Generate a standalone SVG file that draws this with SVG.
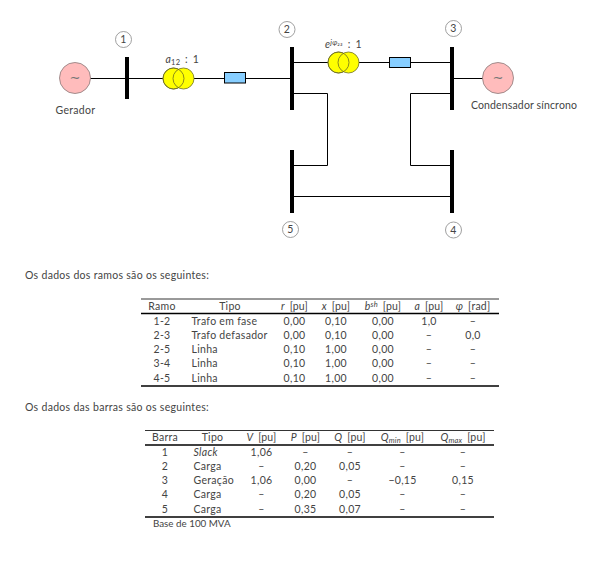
<svg xmlns="http://www.w3.org/2000/svg" width="614" height="573" viewBox="0 0 614 573">
<style>
text{font-family:"Lato","Open Sans","Liberation Sans",sans-serif;font-size:10.5px;fill:#444;letter-spacing:.3px}
.m{text-anchor:middle}
.i{font-style:italic}
.s{font-size:7.5px}
.hd{word-spacing:2px;letter-spacing:.2px}
.til{font-family:"DejaVu Sans",sans-serif;font-size:13px;fill:#777;letter-spacing:0}
.w{fill:none;stroke:#000;stroke-width:1}
.bus{fill:#000}
.gen{fill:#ffbcbc;stroke:#8a7a7a;stroke-width:.8}
.tr{fill:#ffff00;stroke:#6f6f20;stroke-width:.8}
.tro{fill:none;stroke:#6f6f20;stroke-width:.8}
.r{fill:#87ceff;stroke:#000;stroke-width:1}
.n{fill:#fff;stroke:#888;stroke-width:.8}
.h{stroke:#000;stroke-width:.8}
.t{stroke:#000;stroke-width:1.500}
</style>
<g id="connectors">
<path class="w" d="M90 78.500H163M193.500 78.500H224.500M245.500 78.500H290"/>
<path class="w" d="M358.500 62.500H389.500M410.500 62.500H450M294 62.500H328"/>
<path class="w" d="M454 78.500H483"/>
<path class="w" d="M294 93.500H327.500V165.500H294"/>
<path class="w" d="M450 93.500H410.500V165.500H450"/>
<path class="w" d="M294 196.500H450"/>
</g>
<g id="gerador"><circle class="gen" cx="75" cy="78" r="15.500"/><text class="m til" x="75" y="82">∼</text><text class="m" x="75.500" y="113.500">Gerador</text></g>
<g id="condensador"><circle class="gen" cx="498" cy="78" r="15.500"/><text class="m til" x="498" y="82">∼</text><text class="m" style="letter-spacing:.15px" x="524" y="109">Condensador síncrono</text></g>
<g id="bus1"><rect class="bus" x="125" y="57" width="4" height="42"/><circle class="n" cx="123.500" cy="39.500" r="8"/><text class="m" x="123.500" y="43">1</text></g>
<g id="bus2"><rect class="bus" x="290" y="47" width="4" height="63"/><circle class="n" cx="287" cy="29.500" r="8"/><text class="m" x="287" y="33">2</text></g>
<g id="bus3"><rect class="bus" x="450" y="47" width="4" height="63"/><circle class="n" cx="453.500" cy="28.500" r="8"/><text class="m" x="453.500" y="32">3</text></g>
<g id="bus4"><rect class="bus" x="450" y="150" width="4" height="63"/><circle class="n" cx="453.500" cy="230" r="8"/><text class="m" x="453.500" y="234">4</text></g>
<g id="bus5"><rect class="bus" x="290" y="150" width="4" height="63"/><circle class="n" cx="290.500" cy="229.500" r="8"/><text class="m" x="290.500" y="233">5</text></g>
<g id="trafo12"><circle class="tr" cx="173.500" cy="78.500" r="10.500"/><circle class="tr" cx="183.500" cy="78.500" r="10.500"/><circle class="tro" cx="173.500" cy="78.500" r="10.500"/><text class="hd" x="165.500" y="62.500"><tspan class="i">a</tspan><tspan class="s" dy="2">12</tspan><tspan dy="-2"> : 1</tspan></text></g>
<g id="trafo23"><circle class="tr" cx="338.500" cy="62.500" r="10.500"/><circle class="tr" cx="348.500" cy="62.500" r="10.500"/><circle class="tro" cx="338.500" cy="62.500" r="10.500"/><text class="hd" x="325" y="47.500"><tspan class="i">e</tspan><tspan class="s i" dy="-3">jφ₂₃</tspan><tspan dy="3"> : 1</tspan></text></g>
<g id="linha12"><rect class="r" x="224.500" y="72.500" width="21" height="10.500"/></g>
<g id="linha23"><rect class="r" x="389.500" y="57.500" width="21" height="10"/></g>
<text x="25" y="279">Os dados dos ramos são os seguintes:</text>
<g id="tabela-ramos">
<line class="h" x1="141" x2="499" y1="299" y2="299"/><line class="t" x1="141" x2="499" y1="313.500" y2="313.500"/><line class="t" x1="141" x2="499" y1="386" y2="386"/>
<text class="m" x="162" y="310">Ramo</text><text class="m" x="230" y="310">Tipo</text><text class="m hd" x="294.500" y="310"><tspan class="i">r</tspan> [pu]</text><text class="m hd" x="336" y="310"><tspan class="i">x</tspan> [pu]</text><text class="m hd" x="383" y="310"><tspan class="i">b</tspan><tspan class="s i" dy="-3">sh</tspan><tspan dy="3"> [pu]</tspan></text><text class="m hd" x="429" y="310"><tspan class="i">a</tspan> [pu]</text><text class="m hd" x="473" y="310"><tspan class="i">φ</tspan> [rad]</text>
<text class="m" x="162" y="324.500">1-2</text><text x="191.500" y="324.500">Trafo em fase</text><text class="m" x="294.500" y="324.500">0,00</text><text class="m" x="336" y="324.500">0,10</text><text class="m" x="383" y="324.500">0,00</text><text class="m" x="429" y="324.500">1,0</text><text class="m" x="473" y="324.500">–</text>
<text class="m" x="162" y="338.500">2-3</text><text x="191.500" y="338.500">Trafo defasador</text><text class="m" x="294.500" y="338.500">0,00</text><text class="m" x="336" y="338.500">0,10</text><text class="m" x="383" y="338.500">0,00</text><text class="m" x="429" y="338.500">–</text><text class="m" x="473" y="338.500">0,0</text>
<text class="m" x="162" y="352.500">2-5</text><text x="191.500" y="352.500">Linha</text><text class="m" x="294.500" y="352.500">0,10</text><text class="m" x="336" y="352.500">1,00</text><text class="m" x="383" y="352.500">0,00</text><text class="m" x="429" y="352.500">–</text><text class="m" x="473" y="352.500">–</text>
<text class="m" x="162" y="367">3-4</text><text x="191.500" y="367">Linha</text><text class="m" x="294.500" y="367">0,10</text><text class="m" x="336" y="367">1,00</text><text class="m" x="383" y="367">0,00</text><text class="m" x="429" y="367">–</text><text class="m" x="473" y="367">–</text>
<text class="m" x="162" y="382">4-5</text><text x="191.500" y="382">Linha</text><text class="m" x="294.500" y="382">0,10</text><text class="m" x="336" y="382">1,00</text><text class="m" x="383" y="382">0,00</text><text class="m" x="429" y="382">–</text><text class="m" x="473" y="382">–</text>
</g>
<text x="25" y="411">Os dados das barras são os seguintes:</text>
<g id="tabela-barras">
<line class="h" x1="145" x2="494" y1="430.500" y2="430.500"/><line class="t" x1="145" x2="494" y1="445" y2="445"/><line class="t" x1="145" x2="494" y1="517" y2="517"/>
<text class="m" x="165" y="441">Barra</text><text class="m" x="212.500" y="441">Tipo</text><text class="m hd" x="261.500" y="441"><tspan class="i">V</tspan> [pu]</text><text class="m hd" x="305.500" y="441"><tspan class="i">P</tspan> [pu]</text><text class="m hd" x="350" y="441"><tspan class="i">Q</tspan> [pu]</text><text class="m hd" x="402.500" y="441"><tspan class="i">Q</tspan><tspan class="s i" dy="2">min</tspan><tspan dy="-2"> [pu]</tspan></text><text class="m hd" x="463" y="441"><tspan class="i">Q</tspan><tspan class="s i" dy="2">max</tspan><tspan dy="-2"> [pu]</tspan></text>
<text class="m" x="165" y="455.500">1</text><text class="i" x="193.500" y="455.500">Slack</text><text class="m" x="261.500" y="455.500">1,06</text><text class="m" x="305.500" y="455.500">–</text><text class="m" x="350" y="455.500">–</text><text class="m" x="402.500" y="455.500">–</text><text class="m" x="463" y="455.500">–</text>
<text class="m" x="165" y="470">2</text><text x="193.500" y="470">Carga</text><text class="m" x="261.500" y="470">–</text><text class="m" x="305.500" y="470">0,20</text><text class="m" x="350" y="470">0,05</text><text class="m" x="402.500" y="470">–</text><text class="m" x="463" y="470">–</text>
<text class="m" x="165" y="484">3</text><text x="193.500" y="484">Geração</text><text class="m" x="261.500" y="484">1,06</text><text class="m" x="305.500" y="484">0,00</text><text class="m" x="350" y="484">–</text><text class="m" x="402.500" y="484">−0,15</text><text class="m" x="463" y="484">0,15</text>
<text class="m" x="165" y="498">4</text><text x="193.500" y="498">Carga</text><text class="m" x="261.500" y="498">–</text><text class="m" x="305.500" y="498">0,20</text><text class="m" x="350" y="498">0,05</text><text class="m" x="402.500" y="498">–</text><text class="m" x="463" y="498">–</text>
<text class="m" x="165" y="512.500">5</text><text x="193.500" y="512.500">Carga</text><text class="m" x="261.500" y="512.500">–</text><text class="m" x="305.500" y="512.500">0,35</text><text class="m" x="350" y="512.500">0,07</text><text class="m" x="402.500" y="512.500">–</text><text class="m" x="463" y="512.500">–</text>
<text x="153" y="527" style="font-size:9.800px;letter-spacing:0">Base de 100 MVA</text>
</g>
</svg>
